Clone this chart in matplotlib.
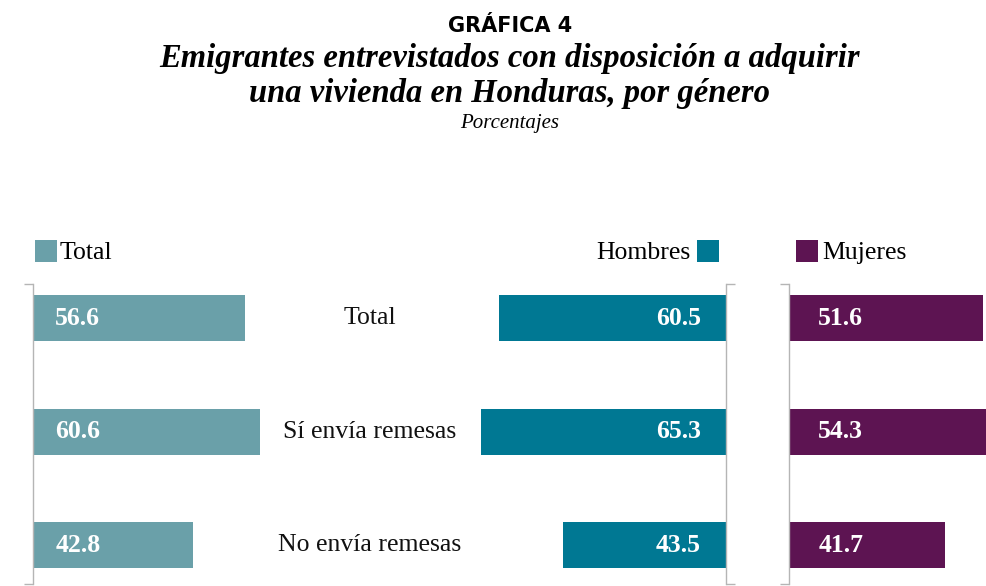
import matplotlib
matplotlib.use('Agg')
import matplotlib.pyplot as plt
import matplotlib.transforms as mtransforms
from matplotlib.patches import Rectangle

# data
categorias = ['Total', 'Sí envía remesas', 'No envía remesas']
total = [56.6, 60.6, 42.8]
hombres = [60.5, 65.3, 43.5]
mujeres = [51.6, 54.3, 41.7]

C_TOTAL = '#6aa0a9'
C_HOMBRES = '#007893'
C_MUJERES = '#5d1452'
C_GRIS = '#b5b5b5'

W, H = 987, 586
SERIF = 'Liberation Serif'

fig = plt.figure(figsize=(W / 100, H / 100), dpi=100)


def fx(px):
    return px / W


def fy(py):
    return 1 - py / H


# each panel: 70 units wide, ~3.75 px per unit
XMAX = 70
ancho = XMAX * 3.75
top, bottom = 284, 584
rect_h = [fy(bottom), (bottom - top) / H]

ax_t = fig.add_axes([fx(33), rect_h[0], ancho / W, rect_h[1]])
ax_h = fig.add_axes([fx(726 - ancho), rect_h[0], ancho / W, rect_h[1]])
ax_m = fig.add_axes([fx(789), rect_h[0], ancho / W, rect_h[1]])

y = list(range(len(categorias)))
ylo, yhi = 2.34, -0.3

paneles = [
    (ax_t, total, C_TOTAL, 'left'),
    (ax_h, hombres, C_HOMBRES, 'right'),
    (ax_m, mujeres, C_MUJERES, 'left'),
]

for ax, vals, color, lado in paneles:
    ax.barh(y, vals, height=0.405, color=color)
    ax.set_ylim(ylo, yhi)
    ax.set_xlim(0, XMAX)
    ax.patch.set_visible(False)
    for s in ['top', 'bottom', 'left', 'right']:
        ax.spines[s].set_visible(False)
    ax.set_xticks([])
    ax.spines[lado].set_visible(True)
    ax.spines[lado].set_color(C_GRIS)
    ax.spines[lado].set_linewidth(1)
    if lado == 'right':
        ax.yaxis.tick_right()
    ax.set_yticks([yhi, ylo])
    ax.set_yticklabels([])
    ax.tick_params(axis='y', direction='out', length=6.5, width=1,
                   color=C_GRIS)

ax_h.invert_xaxis()

# value labels
for i, v in enumerate(total):
    ax_t.annotate(f'{v}', xy=(0, i), xytext=(16, 0), textcoords='offset points',
                  ha='left', va='center', color='white', fontsize=18.5,
                  fontweight='bold', family=SERIF)
for i, v in enumerate(hombres):
    ax_h.annotate(f'{v}', xy=(0, i), xytext=(-18, 0), textcoords='offset points',
                  ha='right', va='center', color='white', fontsize=18.5,
                  fontweight='bold', family=SERIF)
for i, v in enumerate(mujeres):
    ax_m.annotate(f'{v}', xy=(0, i), xytext=(21, 0), textcoords='offset points',
                  ha='left', va='center', color='white', fontsize=18.5,
                  fontweight='bold', family=SERIF)

# category labels in the middle
trans = mtransforms.blended_transform_factory(fig.transFigure, ax_t.transData)
for i, c in enumerate(categorias):
    fig.text(fx(370), i, c, transform=trans, ha='center', va='center',
             fontsize=18.5, family=SERIF, color='#111111')

# legend
sq = 22
for x0, color in [(35, C_TOTAL), (697, C_HOMBRES), (796, C_MUJERES)]:
    fig.add_artist(Rectangle((fx(x0), fy(262)), sq / W, sq / H,
                             transform=fig.transFigure, color=color, lw=0))
fig.text(fx(60), fy(259), 'Total', ha='left', va='baseline',
         fontsize=18.5, family=SERIF)
fig.text(fx(691), fy(259), 'Hombres', ha='right', va='baseline',
         fontsize=18.5, family=SERIF)
fig.text(fx(822), fy(259), 'Mujeres', ha='left', va='baseline',
         fontsize=18.5, family=SERIF)

# titles
fig.text(fx(510), fy(32), 'GRÁFICA 4', ha='center', va='baseline',
         fontsize=15, fontweight='bold', family='DejaVu Sans')
fig.text(fx(510), fy(67), 'Emigrantes entrevistados con disposición a adquirir',
         ha='center', va='baseline', fontsize=23.5, fontweight='bold',
         style='italic', family=SERIF)
fig.text(fx(510), fy(102), 'una vivienda en Honduras, por género',
         ha='center', va='baseline', fontsize=23.5, fontweight='bold',
         style='italic', family=SERIF)
fig.text(fx(510), fy(128), 'Porcentajes', ha='center', va='baseline',
         fontsize=15, style='italic', family=SERIF)

fig.savefig('out.png', dpi=100)
